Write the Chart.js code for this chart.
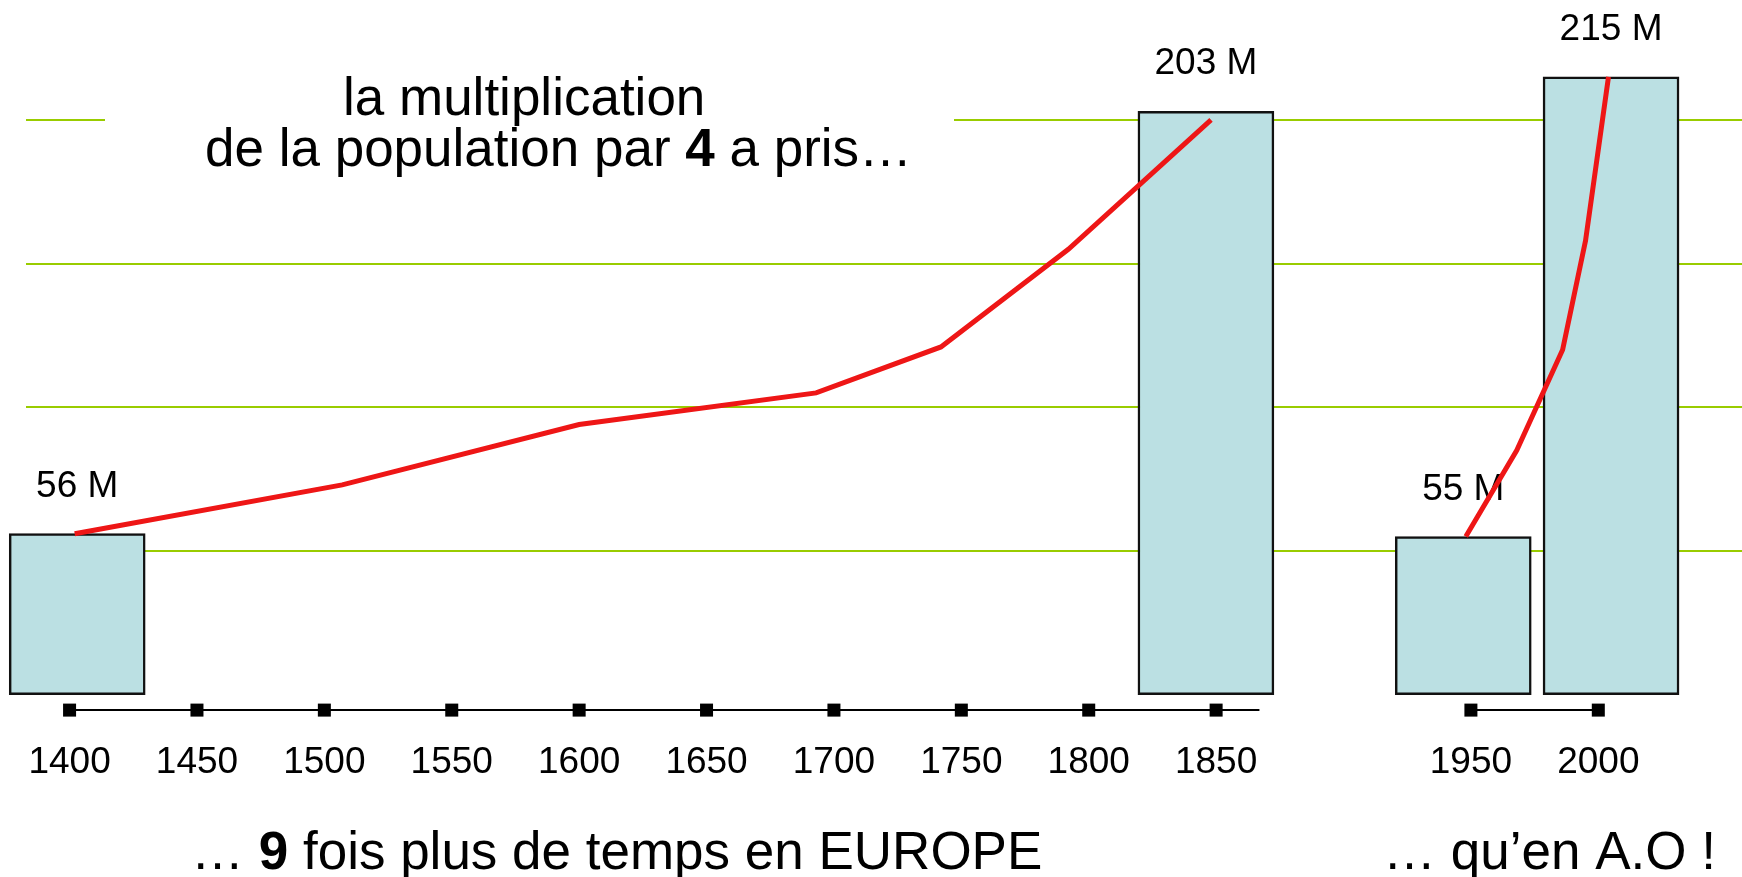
<!DOCTYPE html>
<html>
<head>
<meta charset="utf-8">
<script src="https://cdn.jsdelivr.net/npm/chart.js@4.4.1/dist/chart.umd.min.js"></script>
<style>
  html, body { margin: 0; padding: 0; background: #fff; }
  #graphe { display: block; }
</style>
</head>
<body>
<canvas id="graphe" width="1742" height="877"></canvas>
<script>
// valeurs (millions d'habitants)
// position des barres telle que dessinée (un peu décalée des graduations)
const anneesBarres = [1403, 1846, 1947, 2005];
const popBarres = [56, 203, 55, 215];

const anneesEurope = [1402, 1507, 1600, 1693, 1742, 1792, 1848];
const popEurope = [56, 73, 94, 105, 121, 155, 200];

const anneesAO = [1948, 1968, 1986, 1995, 2004];
const popAO = [55, 85, 120, 158, 215];

const anneesGraduees = [1400, 1450, 1500, 1550, 1600, 1650, 1700, 1750, 1800, 1850, 1950, 2000];
const lignesGrille = [50, 100, 150, 200];
const segmentsAxe = [[1400, 1867], [1950, 2000]];

const titre1 = "la multiplication";
const titre2 = [{t: "de la population par "}, {t: "4", gras: true}, {t: " a pris…"}];
const bas1 = [{t: "… "}, {t: "9", gras: true}, {t: " fois plus de temps en EUROPE"}];
const bas2 = [{t: "… qu’en A.O !"}];

const POLICE = '"Liberation Sans", Arial, sans-serif';

function points(annees, valeurs) {
    return annees.map(function(a, i) {
        return {x: a, y: valeurs[i]};
    });
}

// texte avec des morceaux en gras
function texteMixte(ctx, morceaux, x, y, taille) {
    morceaux.forEach(function(m) {
        ctx.font = (m.gras ? "bold " : "") + taille + "px " + POLICE;
        ctx.fillText(m.t, x, y);
        x += ctx.measureText(m.t).width;
    });
}

const decor = {
    id: "decor",
    beforeDatasetsDraw(chart) {
        let ctx = chart.ctx;
        let echX = chart.scales.x;
        let zone = chart.chartArea;
        ctx.save();

        // axe du temps : traits + carrés
        let yAxe = zone.bottom + 15.5;
        ctx.strokeStyle = "#000";
        ctx.lineWidth = 2;
        segmentsAxe.forEach(function(s) {
            ctx.beginPath();
            ctx.moveTo(echX.getPixelForValue(s[0]), yAxe);
            ctx.lineTo(echX.getPixelForValue(s[1]), yAxe);
            ctx.stroke();
        });
        ctx.fillStyle = "#000";
        anneesGraduees.forEach(function(a) {
            let px = echX.getPixelForValue(a);
            ctx.fillRect(px - 6.5, yAxe - 6.5, 13, 13);
        });

        // étiquettes au-dessus des barres
        ctx.font = "37px " + POLICE;
        ctx.textAlign = "center";
        ctx.textBaseline = "alphabetic";
        chart.getDatasetMeta(2).data.forEach(function(barre, i) {
            ctx.fillText(popBarres[i] + " M", barre.x, barre.y - 37);
        });

        // titre sur fond blanc (coupe la ligne de grille)
        ctx.fillStyle = "#fff";
        ctx.fillRect(105, 100, 849, 40);
        ctx.fillStyle = "#000";
        ctx.textAlign = "left";
        ctx.font = "53px " + POLICE;
        ctx.fillText(titre1, 343, 115);
        texteMixte(ctx, titre2, 205, 166, 53);

        texteMixte(ctx, bas1, 191, 869, 53);
        texteMixte(ctx, bas2, 1383, 869, 53);
        ctx.restore();
    }
};

Chart.defaults.font.family = POLICE;
Chart.defaults.color = "#000";

let g = document.getElementById("graphe").getContext("2d");
let graphe = new Chart(g, {
    type: "bar",
    data: {
        datasets: [{
            type: "line",
            data: points(anneesEurope, popEurope),
            borderColor: "#ee1616",
            borderWidth: 5,
            pointRadius: 0,
            tension: 0,
            order: 1
        }, {
            type: "line",
            data: points(anneesAO, popAO),
            borderColor: "#ee1616",
            borderWidth: 5,
            pointRadius: 0,
            tension: 0,
            order: 1
        }, {
            type: "bar",
            data: points(anneesBarres, popBarres),
            backgroundColor: "#bbe0e3",
            borderColor: "#111",
            borderWidth: 2.5,
            borderSkipped: false,
            barThickness: 136,
            clip: false,
            order: 2
        }]
    },
    options: {
        responsive: false,
        animation: false,
        devicePixelRatio: 1,
        layout: {
            padding: {left: 26, right: 0, top: 5, bottom: 89}
        },
        plugins: {
            legend: {display: false},
            tooltip: {enabled: false}
        },
        scales: {
            x: {
                type: "linear",
                min: 1382.9,
                max: 2056.4,
                offset: false,
                grid: {display: false, drawTicks: true, tickLength: 43, offset: false},
                border: {display: false},
                ticks: {
                    autoSkip: false,
                    maxRotation: 0,
                    padding: 3,
                    font: {size: 37},
                    callback: function(v) { return String(v); }
                },
                afterBuildTicks: function(axe) {
                    axe.ticks = anneesGraduees.map(function(a) { return {value: a}; });
                }
            },
            y: {
                min: 0,
                max: 240,
                grid: {color: "#99cc00", lineWidth: 2, drawTicks: false},
                border: {display: false},
                ticks: {display: false},
                afterBuildTicks: function(axe) {
                    axe.ticks = lignesGrille.map(function(v) { return {value: v}; });
                }
            }
        }
    },
    plugins: [decor]
});
</script>
</body>
</html>
